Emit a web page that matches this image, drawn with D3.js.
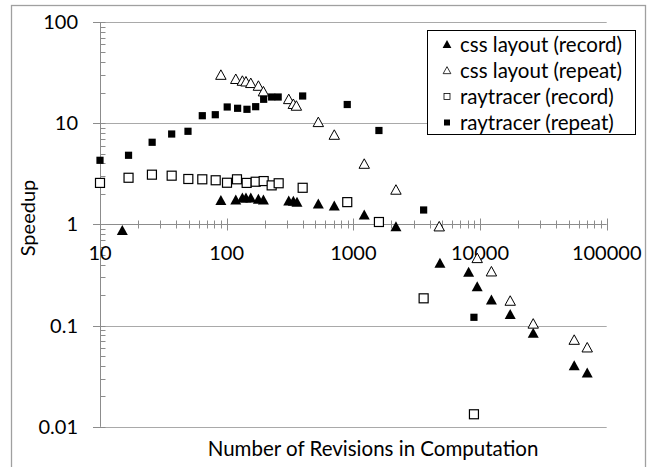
<!DOCTYPE html>
<html><head><meta charset="utf-8">
<script src="https://cdn.jsdelivr.net/npm/d3@7"></script>
<style>body{margin:0;background:#fff}svg{display:block}text{font-family:Lato,"Open Sans",sans-serif;fill:#000}</style>
</head><body>
<svg id="c" width="652" height="467"></svg>
<script>
const cssRecordX = [15, 90, 118, 133, 142, 155, 178, 195, 309, 336, 359, 529, 707, 1219, 2169, 4826, 8128, 9500, 12300, 17310, 26300, 55400, 70180];
const cssRecordY = [0.87, 1.72, 1.74, 1.82, 1.82, 1.82, 1.77, 1.74, 1.70, 1.69, 1.66, 1.59, 1.52, 1.24, 0.95, 0.413, 0.336, 0.242, 0.179, 0.129, 0.084, 0.040, 0.034];
const cssRepeatX = [90, 118, 133, 142, 155, 178, 195, 309, 336, 355, 529, 707, 1219, 2169, 4764, 9500, 12300, 17310, 26300, 55400, 70180];
const cssRepeatY = [29.9, 27.2, 26.1, 25.7, 24.8, 23.3, 20.5, 17.2, 15.4, 14.8, 10.2, 7.64, 3.95, 2.19, 0.95, 0.462, 0.341, 0.175, 0.104, 0.072, 0.0605];
const rayRecordX = [10, 16.8, 25.7, 36.8, 49.8, 64.2, 81.9, 100.6, 120.6, 143.8, 169.4, 195.9, 226.5, 257.3, 398, 895, 1592, 3588, 8953];
const rayRecordY = [2.57, 2.89, 3.10, 3.03, 2.81, 2.79, 2.73, 2.58, 2.79, 2.57, 2.64, 2.68, 2.43, 2.55, 2.30, 1.66, 1.056, 0.186, 0.0133];
const rayRepeatX = [10, 16.8, 25.8, 36.8, 49.5, 64.2, 81.3, 101, 122, 144.6, 169.4, 195.9, 226.5, 255, 398, 895, 1592, 3588, 8953];
const rayRepeatY = [4.30, 4.82, 6.48, 7.82, 8.32, 11.86, 12.13, 14.46, 14.04, 13.72, 14.56, 17.23, 18.15, 18.15, 18.57, 15.30, 8.47, 1.388, 0.1208];
const seriesNames = ["css layout (record)", "css layout (repeat)", "raytracer (record)", "raytracer (repeat)"];
const xTickLabels = ["10", "100", "1000", "10000", "100000"];
const yTickLabels = ["0.01", "0.1", "1", "10", "100"];

const svg = d3.select("#c");
const x = d3.scaleLog().domain([10, 100000]).range([100, 606.7]);
const y = d3.scaleLog().domain([0.01, 100]).range([426.8, 22]);
const axisCol = "#8c8c8c", gridCol = "#a9a9a9";

// outer chart border
svg.append("rect").attr("x", 11.5).attr("y", 5.5).attr("width", 634).attr("height", 480)
  .attr("fill", "none").attr("stroke", "#a0a0a0").attr("stroke-width", 1.3);

const yMajor = yTickLabels.map(Number);
const xMajor = xTickLabels.map(Number);

// gridlines
svg.append("g").selectAll("line").data(yMajor.filter(v => v !== 1)).join("line")
  .attr("x1", x(10)).attr("x2", x(100000))
  .attr("y1", d => Math.round(y(d)) + 0.5).attr("y2", d => Math.round(y(d)) + 0.5)
  .attr("stroke", gridCol);

// y axis
const yMinor = [];
for (let e = -2; e < 2; e++) for (let m = 2; m <= 9; m++) yMinor.push(m * Math.pow(10, e));
const ax = svg.append("g");
ax.append("line").attr("x1", 100.5).attr("x2", 100.5).attr("y1", y(100)).attr("y2", y(0.01)).attr("stroke", axisCol);
ax.selectAll(".ymin").data(yMinor).join("line")
  .attr("x1", 100.5).attr("x2", 105.5)
  .attr("y1", d => Math.round(y(d)) + 0.5).attr("y2", d => Math.round(y(d)) + 0.5).attr("stroke", axisCol);
ax.selectAll(".ymaj").data(yMajor).join("line")
  .attr("x1", 93).attr("x2", 105.5)
  .attr("y1", d => Math.round(y(d)) + 0.5).attr("y2", d => Math.round(y(d)) + 0.5).attr("stroke", axisCol);
ax.selectAll(".ylab").data(yMajor).join("text")
  .attr("x", 78).attr("y", d => y(d)).attr("dy", "0.35em").attr("text-anchor", "end")
  .attr("font-size", 20).text((d, i) => yTickLabels[i]);

// x axis at y = 1
const y1 = Math.round(y(1)) + 0.5;
const xMinor = [];
for (let e = 1; e < 5; e++) for (let m = 2; m <= 9; m++) xMinor.push(m * Math.pow(10, e));
ax.append("line").attr("x1", x(10)).attr("x2", x(100000)).attr("y1", y1).attr("y2", y1).attr("stroke", axisCol);
ax.selectAll(".xmin").data(xMinor).join("line")
  .attr("x1", d => Math.round(x(d)) + 0.5).attr("x2", d => Math.round(x(d)) + 0.5)
  .attr("y1", y1 - 4).attr("y2", y1 + 4).attr("stroke", axisCol);
ax.selectAll(".xmaj").data(xMajor).join("line")
  .attr("x1", d => Math.round(x(d)) + 0.5).attr("x2", d => Math.round(x(d)) + 0.5)
  .attr("y1", y1 - 6).attr("y2", y1 + 6).attr("stroke", axisCol);
ax.selectAll(".xlab").data(xMajor).join("text")
  .attr("x", d => x(d)).attr("y", 260).attr("text-anchor", "middle")
  .attr("font-size", 20).text((d, i) => xTickLabels[i]);

// axis titles
svg.append("text").attr("x", 373).attr("y", 456).attr("text-anchor", "middle").attr("font-size", 20.5)
  .text("Number of Revisions in Computation");
svg.append("text").attr("transform", "translate(35,218) rotate(-90)").attr("text-anchor", "middle").attr("font-size", 20)
  .text("Speedup");

// markers
const tri = (s) => `M0,${-s*0.55}L${s*0.55},${s*0.45}L${-s*0.55},${s*0.45}Z`;
function pts(xs, ys) { return xs.map((v, i) => [v, ys[i]]); }
const g = svg.append("g");
g.selectAll(".s0").data(pts(cssRecordX, cssRecordY)).join("path")
  .attr("d", tri(10)).attr("transform", d => `translate(${x(d[0])},${y(d[1])})`).attr("fill", "#000");
g.selectAll(".s1").data(pts(cssRepeatX, cssRepeatY)).join("path")
  .attr("d", tri(9.5)).attr("transform", d => `translate(${x(d[0])},${y(d[1])})`)
  .attr("fill", "#fff").attr("stroke", "#000").attr("stroke-width", 1);
g.selectAll(".s2").data(pts(rayRecordX, rayRecordY)).join("rect")
  .attr("x", d => x(d[0]) - 4.5).attr("y", d => y(d[1]) - 4.5).attr("width", 9).attr("height", 9)
  .attr("fill", "#fff").attr("stroke", "#000").attr("stroke-width", 1.2);
g.selectAll(".s3").data(pts(rayRepeatX, rayRepeatY)).join("rect")
  .attr("x", d => x(d[0]) - 3.6).attr("y", d => y(d[1]) - 3.6).attr("width", 7.2).attr("height", 7.2)
  .attr("fill", "#000");

// legend
const lg = svg.append("g");
lg.append("rect").attr("x", 427.5).attr("y", 30.5).attr("width", 208).attr("height", 104)
  .attr("fill", "#fff").attr("stroke", "#000");
const rowY = [44.5, 70.5, 96.5, 122.5];
const items = lg.selectAll(".li").data(seriesNames).join("g").attr("transform", (d, i) => `translate(447,${rowY[i]})`);
items.each(function(d, i) {
  const s = d3.select(this);
  if (i === 0) s.append("path").attr("d", tri(8)).attr("fill", "#000");
  if (i === 1) s.append("path").attr("d", tri(7)).attr("fill", "#fff").attr("stroke", "#000").attr("stroke-width", 0.8);
  if (i === 2) s.append("rect").attr("x", -3).attr("y", -3).attr("width", 6).attr("height", 6).attr("fill", "#fff").attr("stroke", "#000").attr("stroke-width", 0.8);
  if (i === 3) s.append("rect").attr("x", -3).attr("y", -3).attr("width", 6).attr("height", 6).attr("fill", "#000");
  s.append("text").attr("x", 13).attr("dy", "0.35em").attr("font-size", 20.5).text(d);
});
</script>
</body></html>
